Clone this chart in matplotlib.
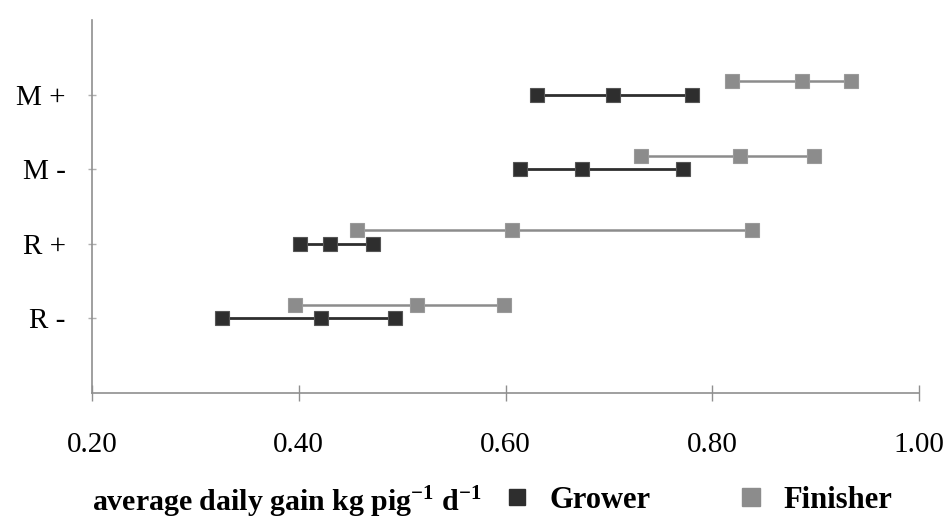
import matplotlib
matplotlib.use("Agg")
import matplotlib.pyplot as plt
from matplotlib.lines import Line2D

plt.rcParams["font.family"] = ["Liberation Serif", "DejaVu Serif"]
plt.rcParams["mathtext.fontset"] = "custom"
plt.rcParams["mathtext.rm"] = "Liberation Serif"
plt.rcParams["mathtext.bf"] = "Liberation Serif:bold"

# Treatments (bottom to top) and the three daily-gain values per phase
treatments = ["R -", "R +", "M -", "M +"]
grower = [
    [0.326, 0.422, 0.493],
    [0.401, 0.430, 0.472],
    [0.614, 0.674, 0.772],
    [0.630, 0.704, 0.780],
]
finisher = [
    [0.396, 0.514, 0.599],
    [0.456, 0.606, 0.838],
    [0.731, 0.827, 0.898],
    [0.819, 0.887, 0.934],
]
x_ticks = [0.20, 0.40, 0.60, 0.80, 1.00]
x_label = r"average daily gain kg pig$^{\mathbf{-1}}$ d$^{\mathbf{-1}}$"
series_names = ["Grower", "Finisher"]

grower_color = "#2e2e2e"
finisher_color = "#8c8c8c"
finisher_shift = 0.18

fig = plt.figure(figsize=(9.52, 5.2), dpi=100)
ax = fig.add_axes([92 / 952, 1 - 393 / 520, (919 - 92) / 952, (393 - 20) / 520])

for i, vals in enumerate(grower):
    y = i + 1
    ax.plot(vals, [y] * len(vals), color=grower_color, lw=2.0,
            marker="s", ms=9.5, mfc=grower_color, mec="#555555", mew=0.8)
for i, vals in enumerate(finisher):
    y = i + 1 + finisher_shift
    ax.plot(vals, [y] * len(vals), color=finisher_color, lw=1.8,
            marker="s", ms=9.5, mfc=finisher_color, mec="#9a9a9a", mew=0.8)

ax.set_xlim(0.20, 1.00)
ax.set_ylim(0, 5)
ax.set_xticks(x_ticks)
ax.set_xticklabels([f"{v:.2f}" for v in x_ticks], fontsize=21)
ax.set_yticks(range(1, len(treatments) + 1))
ax.set_yticklabels(treatments, fontsize=21)

for side in ("top", "right"):
    ax.spines[side].set_visible(False)
for side in ("left", "bottom"):
    ax.spines[side].set_color("#8f8f8f")
    ax.spines[side].set_linewidth(1.2)

ax.tick_params(axis="x", direction="inout", length=12, width=1.0,
               color="#8f8f8f", pad=22)
ax.tick_params(axis="y", direction="inout", length=6, width=1.0,
               color="#b0b0b0", pad=16)

fig.text(92 / 952, 1 - 502 / 520, x_label, fontsize=21.5, fontweight="bold",
         va="center", ha="left")

handles = [
    Line2D([], [], ls="none", marker="s", ms=12, mfc=grower_color, mec=grower_color),
    Line2D([], [], ls="none", marker="s", ms=13, mfc=finisher_color, mec=finisher_color),
]
fig.legend(handles, series_names, loc="center left",
           bbox_to_anchor=(508 / 952, 1 - 500 / 520), ncol=2, frameon=False,
           prop={"family": "Liberation Serif", "weight": "bold", "size": 22},
           handlelength=0.6, handletextpad=0.75, columnspacing=3.0,
           borderaxespad=0, borderpad=0)

fig.savefig("out.png", dpi=100)
